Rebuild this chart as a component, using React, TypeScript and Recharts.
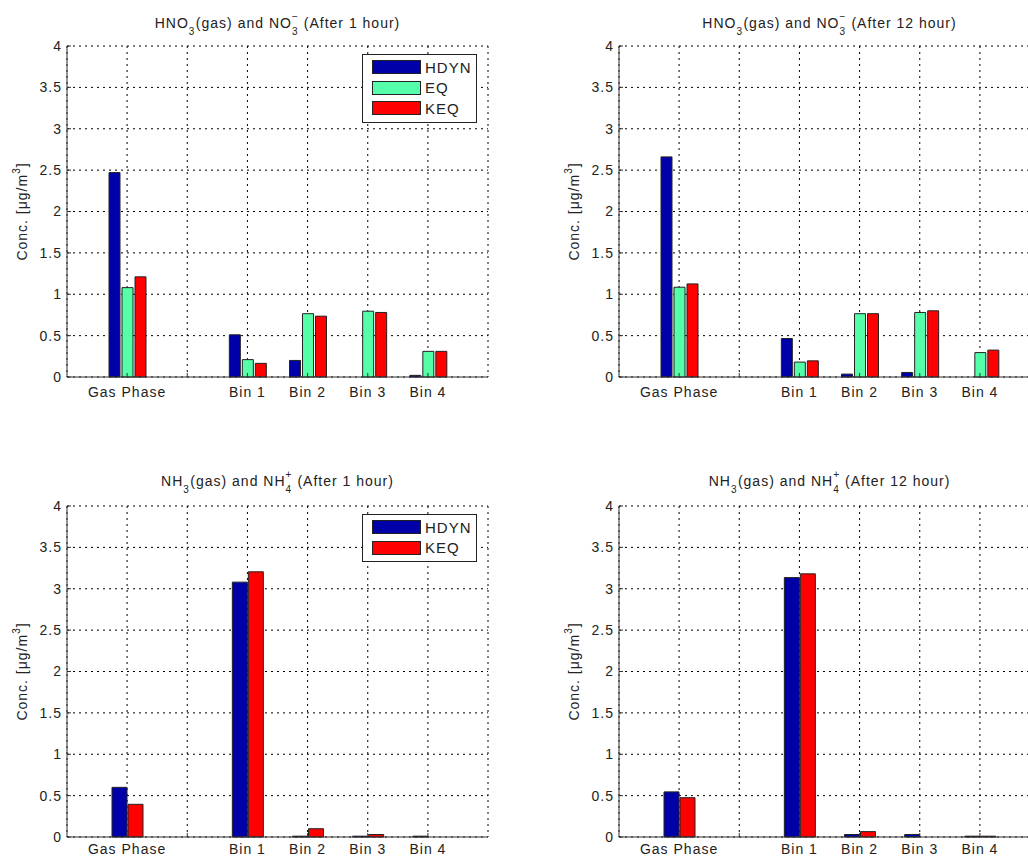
import React from "react";
import { BarChart, Bar, XAxis, YAxis, CartesianGrid, Legend, Label } from "recharts";

const CATEGORIES = ["Gas Phase", "", "Bin 1", "Bin 2", "Bin 3", "Bin 4"];
const Y_TICKS = [0, 0.5, 1, 1.5, 2, 2.5, 3, 3.5, 4];
const LEGEND_ORDER = ["HDYN", "EQ", "KEQ"];

// HNO3(gas) and NO3- after 1 hour
const HNO3_1H_HDYN = [2.47, null, 0.51, 0.2, 0, 0.02];
const HNO3_1H_EQ = [1.08, null, 0.21, 0.765, 0.795, 0.31];
const HNO3_1H_KEQ = [1.21, null, 0.165, 0.735, 0.78, 0.31];

// HNO3(gas) and NO3- after 12 hour
const HNO3_12H_HDYN = [2.66, null, 0.465, 0.035, 0.055, 0];
const HNO3_12H_EQ = [1.085, null, 0.18, 0.765, 0.78, 0.295];
const HNO3_12H_KEQ = [1.125, null, 0.195, 0.765, 0.8, 0.325];

// NH3(gas) and NH4+ after 1 hour
const NH3_1H_HDYN = [0.6, null, 3.08, 0.01, 0.01, 0.01];
const NH3_1H_KEQ = [0.395, null, 3.205, 0.1, 0.03, 0];

// NH3(gas) and NH4+ after 12 hour
const NH3_12H_HDYN = [0.545, null, 3.135, 0.03, 0.03, 0.01];
const NH3_12H_KEQ = [0.475, null, 3.18, 0.065, 0, 0.01];

const BLUE = "#0000a8";
const GREEN = "#55ffaa";
const RED = "#ff0000";
const INK = "#222";

function Sub({ children }: { children: React.ReactNode }) {
  return (
    <span style={{ position: "relative", display: "inline-block", width: 7, height: 14 }}>
      <span style={{ position: "absolute", left: 0, top: 12, fontSize: 10, lineHeight: "11px" }}>{children}</span>
    </span>
  );
}

function SubSup({ sub, sup }: { sub: string; sup: string }) {
  return (
    <span style={{ position: "relative", display: "inline-block", width: 7, height: 14 }}>
      <span style={{ position: "absolute", left: 0, top: -3, fontSize: 10, lineHeight: "11px" }}>{sup}</span>
      <span style={{ position: "absolute", left: 0, top: 12, fontSize: 10, lineHeight: "11px" }}>{sub}</span>
    </span>
  );
}

const YLabel = (props: any) => {
  const vb = props.viewBox || { x: 0, y: 46, width: 67, height: 331 };
  const cx = vb.x + 22;
  const cy = vb.y + vb.height / 2;
  return (
    <text
      x={cx}
      y={cy}
      transform={`rotate(-90 ${cx} ${cy})`}
      textAnchor="middle"
      dominantBaseline="central"
      fontSize={14}
      fill={INK}
    >
      Conc. [μg/m<tspan dy={-6} fontSize={10}>3</tspan>
      <tspan dy={6}>]</tspan>
    </text>
  );
};

const renderLegend = (props: any) => {
  const { payload } = props;
  return (
    <div
      style={{
        border: "1px solid " + INK,
        background: "#fff",
        padding: "2px 0 3px 9px",
        width: 104,
      }}
    >
      {payload.map((entry: any) => (
        <div key={entry.value} style={{ display: "flex", alignItems: "center", height: 20.5 }}>
          <span
            style={{
              flexShrink: 0,
              width: 49,
              height: 14,
              boxSizing: "border-box",
              background: entry.color,
              border: "1px solid " + INK,
            }}
          />
          <span style={{ marginLeft: 4, fontSize: 15, color: INK, whiteSpace: "nowrap" }}>{entry.value}</span>
        </div>
      ))}
    </div>
  );
};

type Series = { key: string; name: string; color: string; values: (number | null)[] };

function Panel({
  left,
  top,
  titleTop,
  title,
  series,
  barSize,
  barGap,
  labelGap,
  showLegend,
}: {
  left: number;
  top: number;
  titleTop: number;
  title: React.ReactNode;
  series: Series[];
  barSize: number;
  barGap: number;
  labelGap: number;
  showLegend: boolean;
}) {
  const data = CATEGORIES.map((name, i) => {
    const row: any = { name };
    series.forEach((s) => {
      row[s.key] = s.values[i];
    });
    return row;
  });

  return (
    <div style={{ position: "absolute", left, top, width: 514, height: 420 }}>
      <div
        style={{
          position: "absolute",
          left: 67,
          top: titleTop,
          width: 421,
          textAlign: "center",
          fontSize: 14,
          lineHeight: "16px",
          color: INK,
          whiteSpace: "nowrap",
        }}
      >
        {title}
      </div>
      <BarChart
        width={514}
        height={420}
        data={data}
        margin={{ top: 46, right: 26, bottom: 13, left: 0 }}
        barGap={barGap}
      >
        <CartesianGrid stroke="#000" strokeDasharray="2 4" />
        <XAxis
          dataKey="name"
          interval={0}
          padding={{ left: 30, right: 30 }}
          tickSize={-4}
          tickMargin={labelGap}
          tick={{ fontSize: 14, fill: INK }}
          axisLine={{ stroke: "#333" }}
          tickLine={{ stroke: "#333" }}
        />
        <XAxis
          xAxisId="top"
          orientation="top"
          dataKey="name"
          interval={0}
          height={0}
          padding={{ left: 30, right: 30 }}
          tick={false}
          tickSize={-4}
          axisLine={{ stroke: "#333" }}
          tickLine={{ stroke: "#333" }}
        />
        <YAxis
          type="number"
          domain={[0, 4]}
          ticks={Y_TICKS}
          interval={0}
          width={67}
          tickSize={-4}
          tickMargin={9}
          tick={{ fontSize: 14, fill: INK }}
          axisLine={{ stroke: "#333" }}
          tickLine={{ stroke: "#333" }}
        >
          <Label content={YLabel} />
        </YAxis>
        <YAxis
          yAxisId="right"
          orientation="right"
          type="number"
          domain={[0, 4]}
          ticks={Y_TICKS}
          interval={0}
          width={0}
          tick={false}
          tickSize={-4}
          axisLine={{ stroke: "#333" }}
          tickLine={{ stroke: "#333" }}
        />
        {showLegend && (
          <Legend
            layout="vertical"
            align="center"
            verticalAlign="middle"
            content={renderLegend}
            itemSorter={(item: any) => LEGEND_ORDER.indexOf(item.value)}
            wrapperStyle={{ top: 54, left: 362, width: "auto", height: "auto" }}
          />
        )}
        {series.map((s) => (
          <Bar
            key={s.key}
            dataKey={s.key}
            name={s.name}
            fill={s.color}
            stroke={INK}
            strokeWidth={1}
            barSize={barSize}
            isAnimationActive={false}
          />
        ))}
      </BarChart>
    </div>
  );
}

export default function App() {
  return (
    <div
      style={{
        position: "absolute",
        left: 0,
        top: 0,
        width: 1028,
        height: 857,
        overflow: "hidden",
        background: "#fff",
        fontFamily: "'Liberation Sans', Arial, Helvetica, sans-serif",
        letterSpacing: "1px",
      }}
    >
      <Panel
        left={0}
        top={0}
        titleTop={14}
        title={
          <>
            HNO<Sub>3</Sub>(gas) and NO<SubSup sub="3" sup="−" /> (After 1 hour)
          </>
        }
        series={[
          { key: "hdyn", name: "HDYN", color: BLUE, values: HNO3_1H_HDYN },
          { key: "eq", name: "EQ", color: GREEN, values: HNO3_1H_EQ },
          { key: "keq", name: "KEQ", color: RED, values: HNO3_1H_KEQ },
        ]}
        barSize={11}
        barGap={2}
        labelGap={14}
        showLegend={true}
      />
      <Panel
        left={552}
        top={0}
        titleTop={14}
        title={
          <>
            HNO<Sub>3</Sub>(gas) and NO<SubSup sub="3" sup="−" /> (After 12 hour)
          </>
        }
        series={[
          { key: "hdyn", name: "HDYN", color: BLUE, values: HNO3_12H_HDYN },
          { key: "eq", name: "EQ", color: GREEN, values: HNO3_12H_EQ },
          { key: "keq", name: "KEQ", color: RED, values: HNO3_12H_KEQ },
        ]}
        barSize={11}
        barGap={2}
        labelGap={14}
        showLegend={false}
      />
      <Panel
        left={0}
        top={460}
        titleTop={12}
        title={
          <>
            NH<Sub>3</Sub>(gas) and NH<SubSup sub="4" sup="+" /> (After 1 hour)
          </>
        }
        series={[
          { key: "hdyn", name: "HDYN", color: BLUE, values: NH3_1H_HDYN },
          { key: "keq", name: "KEQ", color: RED, values: NH3_1H_KEQ },
        ]}
        barSize={15}
        barGap={1}
        labelGap={11}
        showLegend={true}
      />
      <Panel
        left={552}
        top={460}
        titleTop={12}
        title={
          <>
            NH<Sub>3</Sub>(gas) and NH<SubSup sub="4" sup="+" /> (After 12 hour)
          </>
        }
        series={[
          { key: "hdyn", name: "HDYN", color: BLUE, values: NH3_12H_HDYN },
          { key: "keq", name: "KEQ", color: RED, values: NH3_12H_KEQ },
        ]}
        barSize={15}
        barGap={1}
        labelGap={11}
        showLegend={false}
      />
    </div>
  );
}
